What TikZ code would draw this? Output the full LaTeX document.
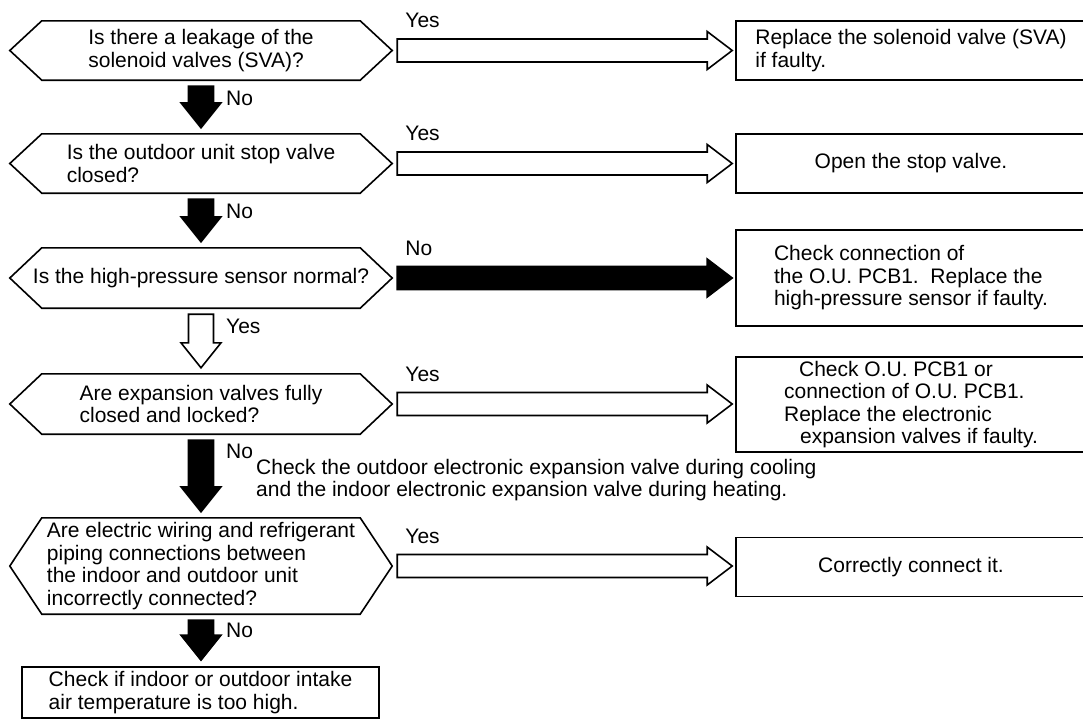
\documentclass[tikz,border=0pt]{standalone}
\usepackage{fontspec}
\setmainfont{Liberation Sans}
\usepackage{tikz}
\usetikzlibrary{calc}

\newcommand{\flowfont}{\fontsize{21}{22.5}\selectfont}
\newcommand{\hexframe}[1]{%
  \draw[line width=1.6pt] ([xshift=32pt]#1.north west) -- ([xshift=-32pt]#1.north east) -- (#1.east)
    -- ([xshift=-32pt]#1.south east) -- ([xshift=32pt]#1.south west) -- (#1.west) -- cycle;}

\begin{document}
\begin{tikzpicture}[x=1pt, y=-1pt,
      qhex/.style={minimum width=382pt, minimum height=59pt, inner sep=0pt, align=left, font=\flowfont},
      abox/.style={draw, line width=1.6pt, minimum width=350pt, minimum height=59pt, inner sep=0pt, align=left, font=\flowfont},
      lbl/.style={anchor=west, inner sep=0pt, font=\flowfont},
      harrow/.style={to path={let \p1=(\tikztostart), \p2=(\tikztotarget) in
        (\x1+5pt,\y1+11.5pt) -- (\x2-28pt,\y1+11.5pt) -- (\x2-28pt,\y1+19pt) -- (\x2-3pt,\y1)
        -- (\x2-28pt,\y1-19pt) -- (\x2-28pt,\y1-11.5pt) -- (\x1+5pt,\y1-11.5pt) -- cycle}},
      varrow/.style={to path={let \p1=(\tikztostart), \p2=(\tikztotarget) in
        (\x1-12.5pt,\y1-6pt) -- (\x1-12.5pt,\y2+31pt) -- (\x1-20pt,\y2+31pt) -- (\x1,\y2+6pt)
        -- (\x1+20pt,\y2+31pt) -- (\x1+12.5pt,\y2+31pt) -- (\x1+12.5pt,\y1-6pt) -- cycle}},
      yesarr/.style={draw, fill=white, line width=1.6pt},
      noarr/.style={draw, fill=black, line width=1.6pt}
    ]
      \path[use as bounding box, clip] (0,0) rectangle (1083,720);

      % Questions
      \node[qhex] (q1) at (201,50.5) {Is there a leakage of the\\solenoid valves (SVA)?};
      \node[qhex] (q2) at (201,163.5) {Is the outdoor unit stop valve\\closed?};
      \node[qhex, minimum height=60pt] (q3) at (201,278) {Is the high-pressure sensor normal?};
      \node[qhex, minimum height=60pt] (q4) at (201,404) {Are expansion valves fully\\closed and locked?};
      \node[qhex, minimum height=96pt] (q5) at (201,566) {Are electric wiring and refrigerant\\piping connections between\\the indoor and outdoor unit\\incorrectly connected?};
      \hexframe{q1}
      \hexframe{q2}
      \hexframe{q3}
      \hexframe{q4}
      \hexframe{q5}

      % Actions
      \node[abox] (r1) at (911,50.5) {Replace the solenoid valve (SVA)\\if faulty.};
      \node[abox] (r2) at (911,163.5) {Open the stop valve.};
      \node[abox, minimum height=96pt] (r3) at (911,278) {Check connection of\\the O.U. PCB1.\ \ Replace the\\high-pressure sensor if faulty.};
      \node[abox, minimum height=95pt] (r4) at (911,404.5) {\hspace*{15pt}Check O.U. PCB1 or\\connection of O.U. PCB1.\\Replace the electronic\\\hspace*{16pt}expansion valves if faulty.};
      \node[abox] (r5) at (911,567) {Correctly connect it.};
      \node[abox, minimum width=357pt, minimum height=51pt] (c1) at (200.5,692.5) {Check if indoor or outdoor intake\\air temperature is too high.};

      % Branches
      \draw[yesarr, harrow] (q1.east) to (r1.west);
      \draw[yesarr, harrow] (q2.east) to (r2.west);
      \draw[noarr, harrow] (q3.east) to (r3.west);
      \draw[yesarr, harrow] (q4.east) to (r4.west);
      \draw[yesarr, harrow] (q5.east) to (r5.west);
      \node[lbl] (y1) at ([xshift=13pt, yshift=30pt]q1.east) {Yes};
      \node[lbl] (y2) at ([xshift=13pt, yshift=30pt]q2.east) {Yes};
      \node[lbl] (n3) at ([xshift=13pt, yshift=30pt]q3.east) {No};
      \node[lbl] (y4) at ([xshift=13pt, yshift=30pt]q4.east) {Yes};
      \node[lbl] (y5) at ([xshift=13pt, yshift=30pt]q5.east) {Yes};

      % Main line
      \draw[noarr, varrow] (q1.south) to (q2.north);
      \draw[noarr, varrow] (q2.south) to (q3.north);
      \draw[yesarr, varrow] (q3.south) to (q4.north);
      \draw[noarr, varrow] (q4.south) to (q5.north);
      \draw[noarr, varrow] (q5.south) to (c1.north);
      \node[lbl] (d1) at ([xshift=25pt, yshift=-18pt]q1.south) {No};
      \node[lbl] (d2) at ([xshift=25pt, yshift=-18pt]q2.south) {No};
      \node[lbl] (d3) at ([xshift=25pt, yshift=-18pt]q3.south) {Yes};
      \node[lbl] (d4) at ([xshift=25pt, yshift=-17pt]q4.south) {No};
      \node[lbl] (d5) at ([xshift=25pt, yshift=-16pt]q5.south) {No};

      \node[lbl, align=left] (note) at (256,480) {Check the outdoor electronic expansion valve during cooling\\and the indoor electronic expansion valve during heating.};
    \end{tikzpicture}
\end{document}
